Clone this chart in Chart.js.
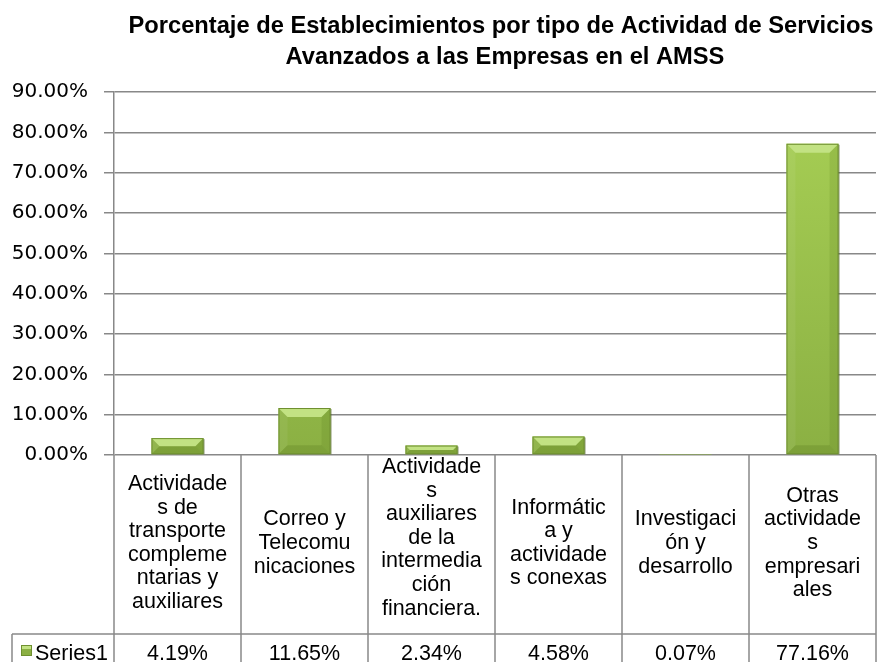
<!DOCTYPE html>
<html>
<head>
<meta charset="utf-8">
<script src="https://cdn.jsdelivr.net/npm/chart.js@4.4.0/dist/chart.umd.min.js"></script>
<style>
  html, body { margin: 0; padding: 0; background: #fff; }
  #wrap { width: 880px; height: 662px; position: relative; }
</style>
</head>
<body>
<div id="wrap"><canvas id="c" width="880" height="662"></canvas></div>
<script>
const titleLines = [
  'Porcentaje de Establecimientos por tipo de Actividad de Servicios',
  'Avanzados a las Empresas en el AMSS'
];
const categoryLines = [
  ['Actividade', 's de', 'transporte', 'compleme', 'ntarias y', 'auxiliares'],
  ['Correo y', 'Telecomu', 'nicaciones'],
  ['Actividade', 's', 'auxiliares', 'de la', 'intermedia', 'ción', 'financiera.'],
  ['Informátic', 'a y', 'actividade', 's conexas'],
  ['Investigaci', 'ón y', 'desarrollo'],
  ['Otras', 'actividade', 's', 'empresari', 'ales']
];
const categories = categoryLines.map(l => l.join(' '));
const seriesName = 'Series1';
const seriesValues = [4.19, 11.65, 2.34, 4.58, 0.07, 77.16];
const yTickMin = 0, yTickMax = 90, yTickStep = 10;

const FONT = "'Liberation Sans', Arial, sans-serif";
const TICKFONT = "'DejaVu Sans', Verdana, sans-serif";
const GRID = '#888888';

function barGradient(ctx) {
  const chart = ctx.chart;
  const ca = chart.chartArea;
  if (!ca) return '#98c24a';
  const g = chart.ctx.createLinearGradient(0, ca.top, 0, ca.bottom);
  g.addColorStop(0, '#a8d055');
  g.addColorStop(1, '#8bb043');
  return g;
}

const bevelPlugin = {
  id: 'bevel',
  afterDatasetsDraw(chart) {
    const ctx = chart.ctx;
    const meta = chart.getDatasetMeta(0);
    meta.data.forEach(bar => {
      const p = bar.getProps(['x', 'y', 'base', 'width'], true);
      const l = p.x - p.width / 2, r = p.x + p.width / 2;
      const t = Math.min(p.y, p.base), b = Math.max(p.y, p.base);
      const h = b - t;
      if (h < 0.5) return;
      const s = Math.min(9, h / 2);
      ctx.save();
      // top bevel
      ctx.beginPath();
      ctx.moveTo(l, t); ctx.lineTo(r, t); ctx.lineTo(r - s, t + s); ctx.lineTo(l + s, t + s); ctx.closePath();
      ctx.fillStyle = '#c2e283'; ctx.fill();
      // left bevel
      ctx.beginPath();
      ctx.moveTo(l, t); ctx.lineTo(l + s, t + s); ctx.lineTo(l + s, b - s); ctx.lineTo(l, b); ctx.closePath();
      ctx.fillStyle = 'rgba(255,255,255,0.06)'; ctx.fill();
      // right bevel
      ctx.beginPath();
      ctx.moveTo(r, t); ctx.lineTo(r - s, t + s); ctx.lineTo(r - s, b - s); ctx.lineTo(r, b); ctx.closePath();
      ctx.fillStyle = 'rgba(60,90,10,0.12)'; ctx.fill();
      // bottom bevel
      ctx.beginPath();
      ctx.moveTo(l, b); ctx.lineTo(r, b); ctx.lineTo(r - s, b - s); ctx.lineTo(l + s, b - s); ctx.closePath();
      ctx.fillStyle = 'rgba(60,90,10,0.18)'; ctx.fill();
      ctx.strokeStyle = '#6f9030'; ctx.lineWidth = 1;
      ctx.strokeRect(l + 0.5, t + 0.5, p.width - 1, h - 1);
      ctx.strokeStyle = 'rgba(70,90,30,0.6)';
      ctx.beginPath(); ctx.moveTo(r + 0.5, t + 1); ctx.lineTo(r + 0.5, b); ctx.stroke();
      ctx.restore();
    });
  }
};

const tablePlugin = {
  id: 'dataTable',
  afterDraw(chart) {
    const ctx = chart.ctx;
    const ca = chart.chartArea;
    const xs = chart.scales.x;
    const n = categories.length;
    const half = (ca.right - ca.left) / n / 2;
    const top = ca.bottom;
    const rowY = 634;
    const bottom = 662;
    const leftEdge = 12;
    ctx.save();
    ctx.strokeStyle = GRID;
    ctx.lineWidth = 1.5;
    for (let i = 0; i <= n; i++) {
      const xb = (i < n ? xs.getPixelForValue(i) - half : xs.getPixelForValue(n - 1) + half);
      ctx.beginPath(); ctx.moveTo(xb, top); ctx.lineTo(xb, bottom); ctx.stroke();
    }
    ctx.beginPath(); ctx.moveTo(leftEdge, rowY); ctx.lineTo(leftEdge, bottom); ctx.stroke();
    ctx.beginPath(); ctx.moveTo(leftEdge, rowY); ctx.lineTo(ca.right, rowY); ctx.stroke();
    // category labels
    ctx.fillStyle = '#000';
    ctx.font = '21.5px ' + FONT;
    ctx.textAlign = 'center';
    ctx.textBaseline = 'middle';
    const lh = 23.6;
    const midY = 543;
    categoryLines.forEach((lines, i) => {
      const cx = xs.getPixelForValue(i);
      const k0 = lines.length * lh > 150 ? top + 12 : midY - (lines.length - 1) * lh / 2;
      lines.forEach((ln, k) => ctx.fillText(ln, cx, k0 + k * lh));
    });
    // values row
    ctx.textBaseline = 'alphabetic';
    const vb = 660;
    seriesValues.forEach((v, i) => {
      ctx.fillText(v.toFixed(2) + '%', xs.getPixelForValue(i), vb);
    });
    // legend key + series name
    ctx.fillStyle = '#8bb043';
    ctx.fillRect(21, 645, 11, 11);
    ctx.fillStyle = '#c2e283';
    ctx.fillRect(22, 646, 9, 3);
    ctx.strokeStyle = '#6f9030'; ctx.lineWidth = 1;
    ctx.strokeRect(21.5, 645.5, 10, 10);
    ctx.fillStyle = '#000';
    ctx.textAlign = 'left';
    ctx.fillText(seriesName, 35, vb);
    ctx.restore();
  }
};

const titlePlugin = {
  id: 'customTitle',
  afterDraw(chart) {
    const ctx = chart.ctx;
    ctx.save();
    ctx.fillStyle = '#000';
    ctx.font = 'bold 23.7px ' + FONT;
    ctx.textAlign = 'center';
    ctx.textBaseline = 'alphabetic';
    ctx.fillText(titleLines[0], 501, 33);
    ctx.fillText(titleLines[1], 505, 64);
    ctx.restore();
  }
};

new Chart(document.getElementById('c'), {
  type: 'bar',
  data: {
    labels: categories,
    datasets: [{
      label: seriesName,
      data: seriesValues,
      backgroundColor: barGradient,
      borderWidth: 0,
      categoryPercentage: 1.0,
      barPercentage: 0.41
    }]
  },
  options: {
    responsive: false,
    devicePixelRatio: 1,
    animation: false,
    layout: { padding: { top: 92, right: 4, bottom: 207, left: 0 } },
    plugins: {
      legend: { display: false },
      title: { display: false },
      tooltip: { enabled: false }
    },
    scales: {
      x: {
        display: false,
        offset: true
      },
      y: {
        min: yTickMin,
        max: yTickMax,
        afterFit(scale) { scale.width = 114; },
        ticks: {
          stepSize: yTickStep,
          padding: 16,
          color: '#000',
          font: { family: TICKFONT, size: 20 },
          callback: v => v.toFixed(2) + '%'
        },
        grid: { color: GRID, lineWidth: 1.5, tickLength: 10 },
        border: { display: true, color: GRID, width: 1.5 }
      }
    }
  },
  plugins: [bevelPlugin, tablePlugin, titlePlugin]
});
</script>
</body>
</html>
